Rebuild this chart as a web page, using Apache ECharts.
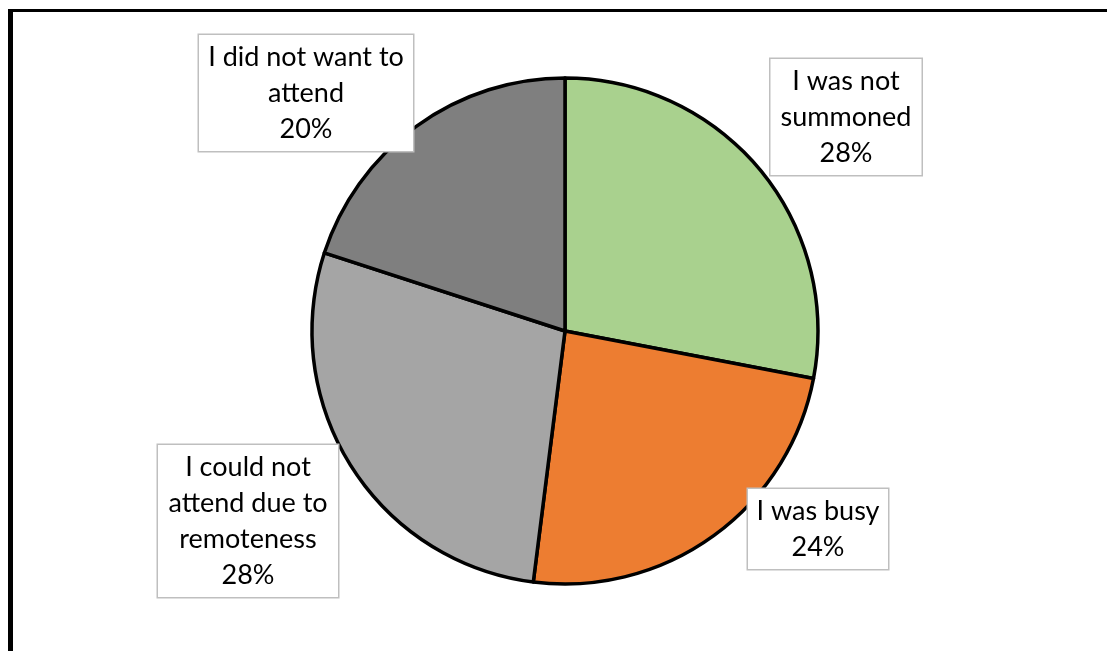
<!DOCTYPE html>
<html>
<head>
<meta charset="utf-8">
<title>Reasons for not attending</title>
<script src="https://cdn.jsdelivr.net/npm/echarts@6/dist/echarts.min.js"></script>
<style>
  html, body { margin: 0; padding: 0; background: #fff; }
  #chart { width: 1107px; height: 651px; }
</style>
</head>
<body>
<div id="chart"></div>
<script>
// Survey answers, clockwise from 12 o'clock
const categories = [
  'I was not\nsummoned',
  'I was busy',
  'I could not\nattend due to\nremoteness',
  'I did not want to\nattend'
];
const shares = [28, 24, 28, 20];
const sliceColors = ['#A9D18E', '#ED7D31', '#A5A5A5', '#7F7F7F'];

// Label callout boxes: centre position and box width (px)
const labelBoxes = [
  { x: 846, y: 117, w: 151 },
  { x: 818, y: 529, w: 140 },
  { x: 248, y: 521, w: 180 },
  { x: 306, y: 93,  w: 214 }
];

const chart = echarts.init(document.getElementById('chart'), null, { renderer: 'canvas' });

const data = categories.map((name, i) => ({
  name: name,
  value: shares[i],
  itemStyle: { color: sliceColors[i] },
  label: { width: labelBoxes[i].w - 4 }
}));

chart.setOption({
  backgroundColor: '#ffffff',
  animation: false,
  graphic: [
    // frame lines along the top and left edges
    { type: 'rect', shape: { x: 8, y: 9, width: 1099, height: 3 }, style: { fill: '#000' } },
    { type: 'rect', shape: { x: 8, y: 9, width: 5, height: 642 }, style: { fill: '#000' } }
  ],
  series: [{
    type: 'pie',
    center: [565, 331],
    radius: 253,
    startAngle: 90,
    clockwise: true,
    avoidLabelOverlap: false,
    itemStyle: { borderColor: '#000', borderWidth: 3.5 },
    label: {
      show: true,
      position: 'outside',
      formatter: p => p.name + '\n' + Math.round(p.percent) + '%',
      fontFamily: 'Lato, "Open Sans", sans-serif',
      fontSize: 27,
      lineHeight: 36,
      color: '#000',
      align: 'center',
      backgroundColor: '#fff',
      borderColor: '#BFBFBF',
      borderWidth: 1.5,
      padding: [4, 2, 4, 2]
    },
    labelLine: { show: false },
    labelLayout: params => {
      const b = labelBoxes[params.dataIndex];
      return { x: b.x, y: b.y, align: 'center', verticalAlign: 'middle' };
    },
    emphasis: { disabled: true },
    data: data
  }]
});
</script>
</body>
</html>
